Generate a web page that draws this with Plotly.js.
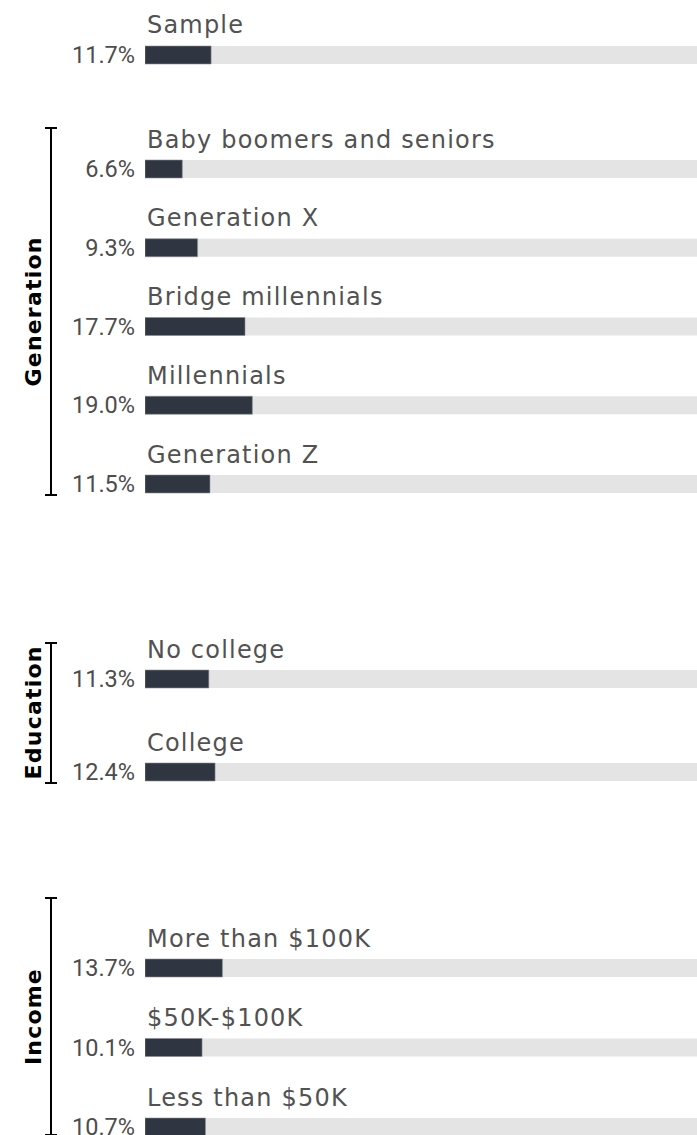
<!DOCTYPE html>
<html>
<head>
<meta charset="utf-8">
<script src="https://cdn.plot.ly/plotly-3.0.1.min.js"></script>
<style>
html,body{margin:0;padding:0;background:#fff;overflow:hidden;}
#chart{width:697px;height:1135px;}
#chart .annotation-text{letter-spacing:1.2px;}
</style>
</head>
<body>
<div id="chart"></div>
<script>
// ---- data ----
const sampleLabels = ['Sample'];
const sampleValues = [11.7];

const generationLabels = ['Baby boomers and seniors', 'Generation X', 'Bridge millennials', 'Millennials', 'Generation Z'];
const generationValues = [6.6, 9.3, 17.7, 19.0, 11.5];

const educationLabels = ['No college', 'College'];
const educationValues = [11.3, 12.4];

const incomeLabels = ['More than $100K', '$50K-$100K', 'Less than $50K'];
const incomeValues = [13.7, 10.1, 10.7];

const groupTitles = ['', 'Generation', 'Education', 'Income'];
const fullScale = 100;

// ---- layout geometry (pixels) ----
const W = 697, H = 1135;
const groups = [
  {labels: sampleLabels, values: sampleValues, top: 10, bottom: 75, c0: 55, s: 79},
  {labels: generationLabels, values: generationValues, top: 128, bottom: 495, c0: 169, s: 78.75},
  {labels: educationLabels, values: educationValues, top: 643, bottom: 783, c0: 679, s: 93},
  {labels: incomeLabels, values: incomeValues, top: 898, bottom: 1135, c0: 968, s: 79.5}
];
const barPx = 18;
const plotLeft = 145;
const darkColor = '#2f3541';
const greyColor = '#e4e4e4';
const textGrey = '#525252';

const traces = [];
const annotations = [];
const shapes = [];
const layout = {
  width: W, height: H,
  margin: {l: 0, r: 0, t: 0, b: 0, pad: 0},
  paper_bgcolor: '#ffffff', plot_bgcolor: '#ffffff',
  showlegend: false,
  barmode: 'overlay',
  xaxis: {range: [0, 97.7], domain: [plotLeft / W, 1], visible: false, fixedrange: true},
  font: {family: 'DejaVu Sans', color: textGrey}
};

groups.forEach((g, i) => {
  const yName = i === 0 ? 'y' : 'y' + (i + 1);
  const axKey = i === 0 ? 'yaxis' : 'yaxis' + (i + 1);
  const topVal = -(g.c0 - g.top) / g.s;
  const botVal = (g.bottom - g.c0) / g.s;
  layout[axKey] = {
    domain: [1 - g.bottom / H, 1 - g.top / H],
    anchor: 'x',
    type: 'category',
    categoryorder: 'array',
    categoryarray: g.labels,
    range: [botVal, topVal],
    autorange: false,
    showgrid: false, zeroline: false, showline: false,
    ticks: '',
    tickvals: g.labels,
    ticktext: g.values.map(v => v.toFixed(1) + '%'),
    ticklabelstandoff: 9,
    tickfont: {family: 'Roboto', size: 23.5, color: '#4d4d4d'},
    fixedrange: true
  };
  traces.push({
    type: 'bar', orientation: 'h',
    y: g.labels, x: g.labels.map(() => fullScale),
    xaxis: 'x', yaxis: yName,
    width: barPx / g.s,
    marker: {color: greyColor},
    hoverinfo: 'skip'
  });
  traces.push({
    type: 'bar', orientation: 'h',
    y: g.labels, x: g.values,
    xaxis: 'x', yaxis: yName,
    width: barPx / g.s,
    marker: {color: darkColor, line: {color: '#8a8e96', width: 0.6}},
    hoverinfo: 'skip'
  });
  g.labels.forEach(lab => {
    annotations.push({
      xref: 'x', yref: yName, x: 0, y: lab,
      xanchor: 'left', yanchor: 'middle', yshift: 29.5, align: 'left',
      text: lab, showarrow: false,
      font: {family: 'DejaVu Sans', size: 24, color: textGrey}
    });
  });
  if (groupTitles[i]) {
    const dom = yName + ' domain';
    shapes.push({type: 'line', xref: 'paper', yref: dom, x0: 51 / W, x1: 51 / W, y0: 0, y1: 1, line: {color: '#000', width: 2}});
    shapes.push({type: 'line', xref: 'paper', yref: dom, x0: 45 / W, x1: 57 / W, y0: 1, y1: 1, line: {color: '#000', width: 2}});
    shapes.push({type: 'line', xref: 'paper', yref: dom, x0: 45 / W, x1: 57 / W, y0: 0, y1: 0, line: {color: '#000', width: 2}});
    annotations.push({
      xref: 'paper', yref: dom, x: 33 / W, y: 0.5,
      xanchor: 'center', yanchor: 'middle', textangle: -90,
      text: '<b>' + groupTitles[i] + '</b>', showarrow: false,
      font: {family: 'DejaVu Sans', size: 22, color: '#000'}
    });
  }
});
layout.annotations = annotations;
layout.shapes = shapes;

Plotly.newPlot('chart', traces, layout, {staticPlot: true, displayModeBar: false});
</script>
</body>
</html>
